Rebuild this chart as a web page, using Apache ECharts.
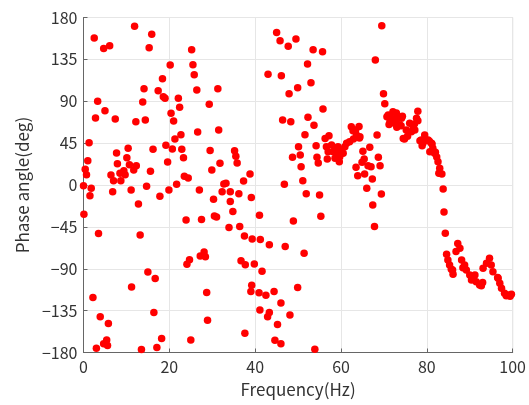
<!DOCTYPE html>
<html>
<head>
<meta charset="utf-8">
<script src="https://cdn.jsdelivr.net/npm/echarts@6/dist/echarts.min.js"></script>
<style>html,body{margin:0;padding:0;background:#fff}#chart{width:529px;height:405px}</style>
</head>
<body>
<div id="chart"></div>
<script>
// Frequency (Hz) of each measured point
const freqHz = [
 11.9,2.5,4.7,6.1,15.9,15.3,25.2,25.5,25.8,26.4,31.3,20.2,18.4,14.1,17.4,18.6,19.0,22.1,22.4,13.8,
 3.3,5.0,2.8,7.4,12.2,14.4,20.4,21.0,29.3,31.5,26.6,22.7,21.3,19.2,20.7,22.9,23.3,16.2,10.4,7.7,
 10.1,7.9,1.3,1.0,0.4,0.7,19.6,29.5,29.9,31.8,10.7,12.3,11.7,9.4,8.5,9.7,6.4,7.0,8.7,15.6,
 23.5,24.4,21.7,0.0,1.8,1.5,6.8,11.1,14.7,17.8,19.9,27.0,30.3,32.3,32.7,
 0.1,12.8,3.5,13.2,23.9,27.5,30.5,31.0,15.0,16.7,11.2,24.1,24.7,27.2,28.1,28.4,28.7,2.2,16.4,3.9,
 5.8,28.9,18.2,25.0,5.4,4.7,5.6,3.0,13.5,17.1,
 45.0,45.8,47.7,49.5,53.5,55.7,52.2,43.0,46.1,53.0,49.9,47.9,55.8,46.4,48.3,52.3,53.7,51.6,57.2,56.3,
 54.2,50.1,48.7,50.5,54.4,54.7,50.7,56.8,46.8,51.1,51.9,55.0,35.2,35.5,35.8,38.8,37.3,33.2,34.2,36.2,39.1,
 34.2,34.8,41.0,33.9,36.4,37.5,39.3,41.2,43.3,47.0,48.9,55.3,51.4,36.7,37.7,39.8,41.6,39.2,39.0,40.9,
 42.5,44.4,46.0,49.9,41.1,43.3,42.9,48.1,45.2,37.6,44.6,46.0,53.9,
 56.6,57.8,58.6,59.3,58.2,59.0,59.7,60.1,60.9,61.3,62.0,57.0,58.6,59.6,60.5,
 69.5,68.0,69.9,70.2,77.9,71.0,72.1,73.3,74.1,71.4,72.5,73.7,71.8,72.9,77.6,76.0,76.8,75.2,74.5,76.4,
 77.2,78.7,79.5,80.3,81.1,79.1,81.4,80.7,81.8,82.6,83.0,82.8,83.8,70.7,72.9,74.3,71.2,73.0,74.0,77.1,
 77.9,74.8,75.5,78.4,79.8,80.6,81.2,78.9,82.0,82.3,83.5,
 62.4,62.8,63.4,64.2,64.3,62.9,63.6,68.4,65.1,66.7,65.4,64.9,63.5,66.3,67.0,68.7,69.1,63.9,65.5,67.3,
 66.0,69.4,64.4,67.4,67.8,84.0,84.3,
 87.2,86.8,84.6,84.9,85.3,86.0,86.1,88.1,88.8,89.2,88.4,90.0,90.8,91.5,92.3,90.4,91.2,93.1,93.9,94.6,
 95.0,95.4,96.6,97.0,97.4,98.1,98.9,99.7,98.5,92.7,93.0,85.7,96.5,99.4,87.7
];
// Phase angle (deg) of each measured point, same order
const phaseDeg = [
 170.5,158,146.8,149.7,161.9,147.6,145.4,129.3,118.6,102,103.5,128.9,114.3,103.5,101.4,94.9,93.1,93.1,83.5,89.2,
 89.9,79.9,72,70.9,68,69.8,77,68.8,86.7,59.1,57,54,49.4,42.6,38.7,38.3,29.4,38.3,39.4,34.4,
 29.4,22.9,45.5,26.1,16.8,11.1,24.7,37.2,16.1,23.3,21.8,20.8,16.1,15.4,12.5,11.1,10.7,4.7,4.7,14.7,
 9.3,7.5,0.7,-0.7,-3.6,-11.5,-7.2,-5.4,-1.4,-12.2,-5.4,-5.4,-15.4,-7.2,1.1,
 -31.4,-20.3,-52.2,-53.6,-37.5,-37.1,-33.2,-34.3,-93.4,-100.5,-109.5,-85.1,-80.4,-76.2,-71.9,-77.2,-115.6,-120.9,-137,-141.7,
 -148.9,-145.3,-165,-166.5,-166.7,-170.6,-172.4,-175.3,-176.7,-174.6,
 164,155,149,156.9,145.4,143.3,130,118.9,117.5,110,104.6,98.1,81.7,69.8,68,72.7,64.1,54.1,53,50.1,
 42.3,41.2,29.7,32.2,29.7,23.6,19.7,27.9,0.7,4.7,-9.3,-10.7,36.9,30.8,23.6,11.8,4.3,1.8,-7.2,-9.3,-13.3,
 -17.8,-28.5,-32.5,-45.7,-44.6,-54.7,-57.9,-58.6,-64.3,-66.1,-38.6,-33.5,-73.3,-81.5,-85.8,-84.8,-92.6,-107.7,-114.5,-115.9,
 -118.4,-114.5,-126.7,-110.2,-134.2,-137,-141.7,-139.6,-149.9,-159.3,-166.8,-170.7,-176.4,
 41.2,43,39.4,41.2,35.8,34,30.4,37.6,41.2,44.8,46.5,35.8,28.7,25,34,
 171.2,134.3,98.1,87.4,79.2,75.2,78.8,73.4,71.6,68,66.3,64.5,71.6,69.8,71.6,66.3,62.6,59.1,50.1,57.3,
 59.1,48.4,53.7,48.4,44.8,44.8,39.4,35.8,34,25,17.9,12.5,-4.3,73.4,77.5,74,65,62,63.8,65.5,
 69.1,49.4,52.5,47.6,48.4,46.9,44,42.3,35.1,30,11.8,
 62.7,58.4,59.1,63,50.5,49.4,53.7,53.7,36.2,40.5,27.9,24.4,19,20.8,19.7,29.7,20.8,10,11.8,6.4,
 -3.6,-9.7,51.9,-21.4,-44.6,-28.9,-51.8,
 -62.9,-71.5,-74.5,-80.6,-86,-91.3,-96,-80.6,-86,-91.3,-88.9,-96.7,-100.3,-103.9,-107.5,-102.1,-96.7,-89.5,-84.1,-78.8,
 -86,-93.2,-100.3,-105.6,-111,-116.4,-118.2,-117.5,-119,-108.4,-104.8,-90.5,-99.4,-119.5,-68
];
const xTicks = [0, 20, 40, 60, 80, 100];
const yTicks = [-180, -135, -90, -45, 0, 45, 90, 135, 180];

const points = freqHz.map((f, i) => [f, phaseDeg[i]]);
const font = '"Noto Sans CJK JP", "Noto Sans", sans-serif';
const chart = echarts.init(document.getElementById('chart'), null, {renderer: 'canvas'});
chart.setOption({
  animation: false,
  backgroundColor: '#fff',
  grid: {left: 83.5, right: 16, top: 17.5, bottom: 52.5, show: true, borderColor: '#d0d0d0', borderWidth: 1},
  xAxis: {
    type: 'value', min: xTicks[0], max: xTicks[xTicks.length - 1], interval: 20,
    name: 'Frequency(Hz)', nameLocation: 'middle', nameGap: 29,
    nameTextStyle: {fontSize: 17, color: '#333', fontFamily: font},
    axisLine: {show: true, onZero: false, lineStyle: {color: '#666', width: 1}},
    axisTick: {show: true, inside: true, length: 4, lineStyle: {color: '#666'}},
    axisLabel: {fontSize: 16, color: '#333', margin: 6, fontFamily: font},
    splitLine: {show: true, lineStyle: {color: '#e6e6e6', width: 1}}
  },
  yAxis: {
    type: 'value', min: yTicks[0], max: yTicks[yTicks.length - 1], interval: 45,
    name: 'Phase angle(deg)', nameLocation: 'middle', nameGap: 48, nameRotate: 90,
    nameTextStyle: {fontSize: 17, color: '#333', fontFamily: font},
    axisLine: {show: true, onZero: false, lineStyle: {color: '#666', width: 1}},
    axisTick: {show: true, inside: true, length: 4, lineStyle: {color: '#666'}},
    axisLabel: {fontSize: 16, color: '#333', margin: 6, fontFamily: font,
      formatter: v => String(v).replace('-', '\u2212')},
    splitLine: {show: true, lineStyle: {color: '#e6e6e6', width: 1}}
  },
  series: [{
    type: 'scatter',
    data: points,
    symbol: 'circle',
    symbolSize: 7.5,
    itemStyle: {color: '#ff0000', opacity: 1},
    clip: false
  }]
});
</script>
</body>
</html>
